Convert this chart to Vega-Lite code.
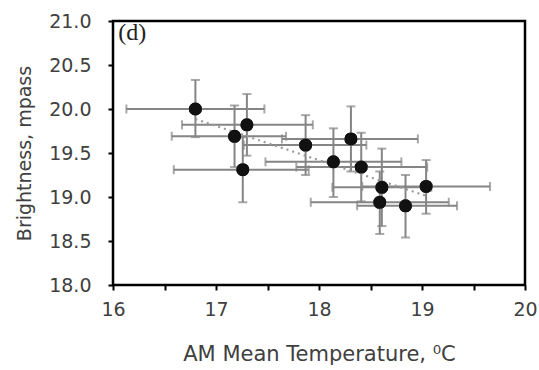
{
  "$schema": "https://vega.github.io/schema/vega-lite/v6.json",
  "autosize": {"type": "none"},
  "width": 412,
  "height": 264,
  "padding": {"left": 113, "top": 21, "right": 14, "bottom": 85},
  "background": "white",
  "config": {
    "view": {"stroke": "#000000", "strokeWidth": 2.5},
    "axis": {
      "labelFont": "DejaVu Sans", "titleFont": "DejaVu Sans",
      "labelFontSize": 19, "titleFontSize": 19,
      "labelColor": "#404040", "titleColor": "#404040",
      "titleFontWeight": "normal",
      "grid": false, "domain": false
    }
  },
  "datasets": {
    "pts": [
      {"x": 16.80, "y": 20.00, "xlo": 16.13, "xhi": 17.47, "ylo": 19.68, "yhi": 20.33},
      {"x": 17.18, "y": 19.69, "xlo": 16.57, "xhi": 17.68, "ylo": 19.34, "yhi": 20.04},
      {"x": 17.30, "y": 19.82, "xlo": 16.67, "xhi": 17.94, "ylo": 19.47, "yhi": 20.17},
      {"x": 17.26, "y": 19.31, "xlo": 16.59, "xhi": 17.90, "ylo": 18.94, "yhi": 19.68},
      {"x": 17.87, "y": 19.59, "xlo": 17.27, "xhi": 18.46, "ylo": 19.25, "yhi": 19.93},
      {"x": 18.31, "y": 19.66, "xlo": 17.64, "xhi": 18.96, "ylo": 19.29, "yhi": 20.03},
      {"x": 18.14, "y": 19.40, "xlo": 17.48, "xhi": 18.80, "ylo": 19.00, "yhi": 19.78},
      {"x": 18.41, "y": 19.34, "xlo": 17.78, "xhi": 19.05, "ylo": 18.95, "yhi": 19.73},
      {"x": 18.61, "y": 19.11, "xlo": 18.13, "xhi": 19.09, "ylo": 18.67, "yhi": 19.55},
      {"x": 19.04, "y": 19.12, "xlo": 18.42, "xhi": 19.66, "ylo": 18.81, "yhi": 19.42},
      {"x": 18.59, "y": 18.94, "xlo": 17.92, "xhi": 19.26, "ylo": 18.58, "yhi": 19.29},
      {"x": 18.84, "y": 18.90, "xlo": 18.37, "xhi": 19.34, "ylo": 18.54, "yhi": 19.25}
    ],
    "lbl": [{"x": 16.05, "y": 20.86, "t": "(d)"}]
  },
  "layer": [
    {
      "data": {"name": "pts"},
      "mark": {"type": "circle", "color": "#111111", "opacity": 1, "size": 170},
      "encoding": {
        "x": {"field": "x", "type": "quantitative",
              "scale": {"domain": [16, 20], "zero": false, "nice": false},
              "axis": {"title": "AM Mean Temperature, ⁰C", "values": [16, 16.5, 17, 17.5, 18, 18.5, 19, 19.5, 20],
                       "labelExpr": "datum.value % 1 === 0 ? format(datum.value, 'd') : ''",
                       "labelPadding": 10, "titlePadding": 24, "titleFontSize": 21, "labelFlush": false,
                       "zindex": 2, "ticks": true, "tickSize": 5, "tickColor": "#000000", "tickWidth": 2,
                       "encode": {"ticks": {"update": {"y2": {"signal": "-6"}}}}}},
        "y": {"field": "y", "type": "quantitative",
              "scale": {"domain": [18, 21], "zero": false, "nice": false},
              "axis": {"title": "Brightness, mpass", "values": [18, 18.5, 19, 19.5, 20, 20.5, 21],
                       "format": ".1f", "labelPadding": 17, "titlePadding": 14, "labelFlush": false,
                       "zindex": 2, "ticks": true, "tickSize": 5, "tickColor": "#000000", "tickWidth": 2}}
      }
    },
    {
      "data": {"name": "pts"},
      "mark": {"type": "errorbar", "ticks": {"size": 9, "thickness": 2, "color": "#858585"}, "color": "#858585", "thickness": 2},
      "encoding": {
        "x": {"field": "xlo", "type": "quantitative", "title": "AM Mean Temperature, ⁰C"},
        "x2": {"field": "xhi"},
        "y": {"field": "y", "type": "quantitative", "title": "Brightness, mpass"}
      }
    },
    {
      "data": {"name": "pts"},
      "mark": {"type": "errorbar", "ticks": {"size": 9, "thickness": 2, "color": "#858585"}, "color": "#858585", "thickness": 2},
      "encoding": {
        "x": {"field": "x", "type": "quantitative", "title": "AM Mean Temperature, ⁰C"},
        "y": {"field": "ylo", "type": "quantitative", "title": "Brightness, mpass"},
        "y2": {"field": "yhi"}
      }
    },
    {
      "data": {"name": "pts"},
      "transform": [{"regression": "y", "on": "x"}],
      "mark": {"type": "line", "color": "#9a9a9a", "strokeWidth": 2.2, "strokeDash": [2, 4]},
      "encoding": {
        "x": {"field": "x", "type": "quantitative", "title": "AM Mean Temperature, ⁰C"},
        "y": {"field": "y", "type": "quantitative", "title": "Brightness, mpass"}
      }
    },
    {
      "data": {"name": "pts"},
      "mark": {"type": "circle", "color": "#111111", "opacity": 1, "size": 170},
      "encoding": {
        "x": {"field": "x", "type": "quantitative", "title": "AM Mean Temperature, ⁰C"},
        "y": {"field": "y", "type": "quantitative", "title": "Brightness, mpass"}
      }
    },
    {
      "data": {"name": "lbl"},
      "mark": {"type": "text", "font": "Liberation Serif", "fontSize": 24, "align": "left", "baseline": "middle", "color": "#222222"},
      "encoding": {
        "x": {"field": "x", "type": "quantitative", "title": "AM Mean Temperature, ⁰C"},
        "y": {"field": "y", "type": "quantitative", "title": "Brightness, mpass"},
        "text": {"field": "t"}
      }
    }
  ]
}
